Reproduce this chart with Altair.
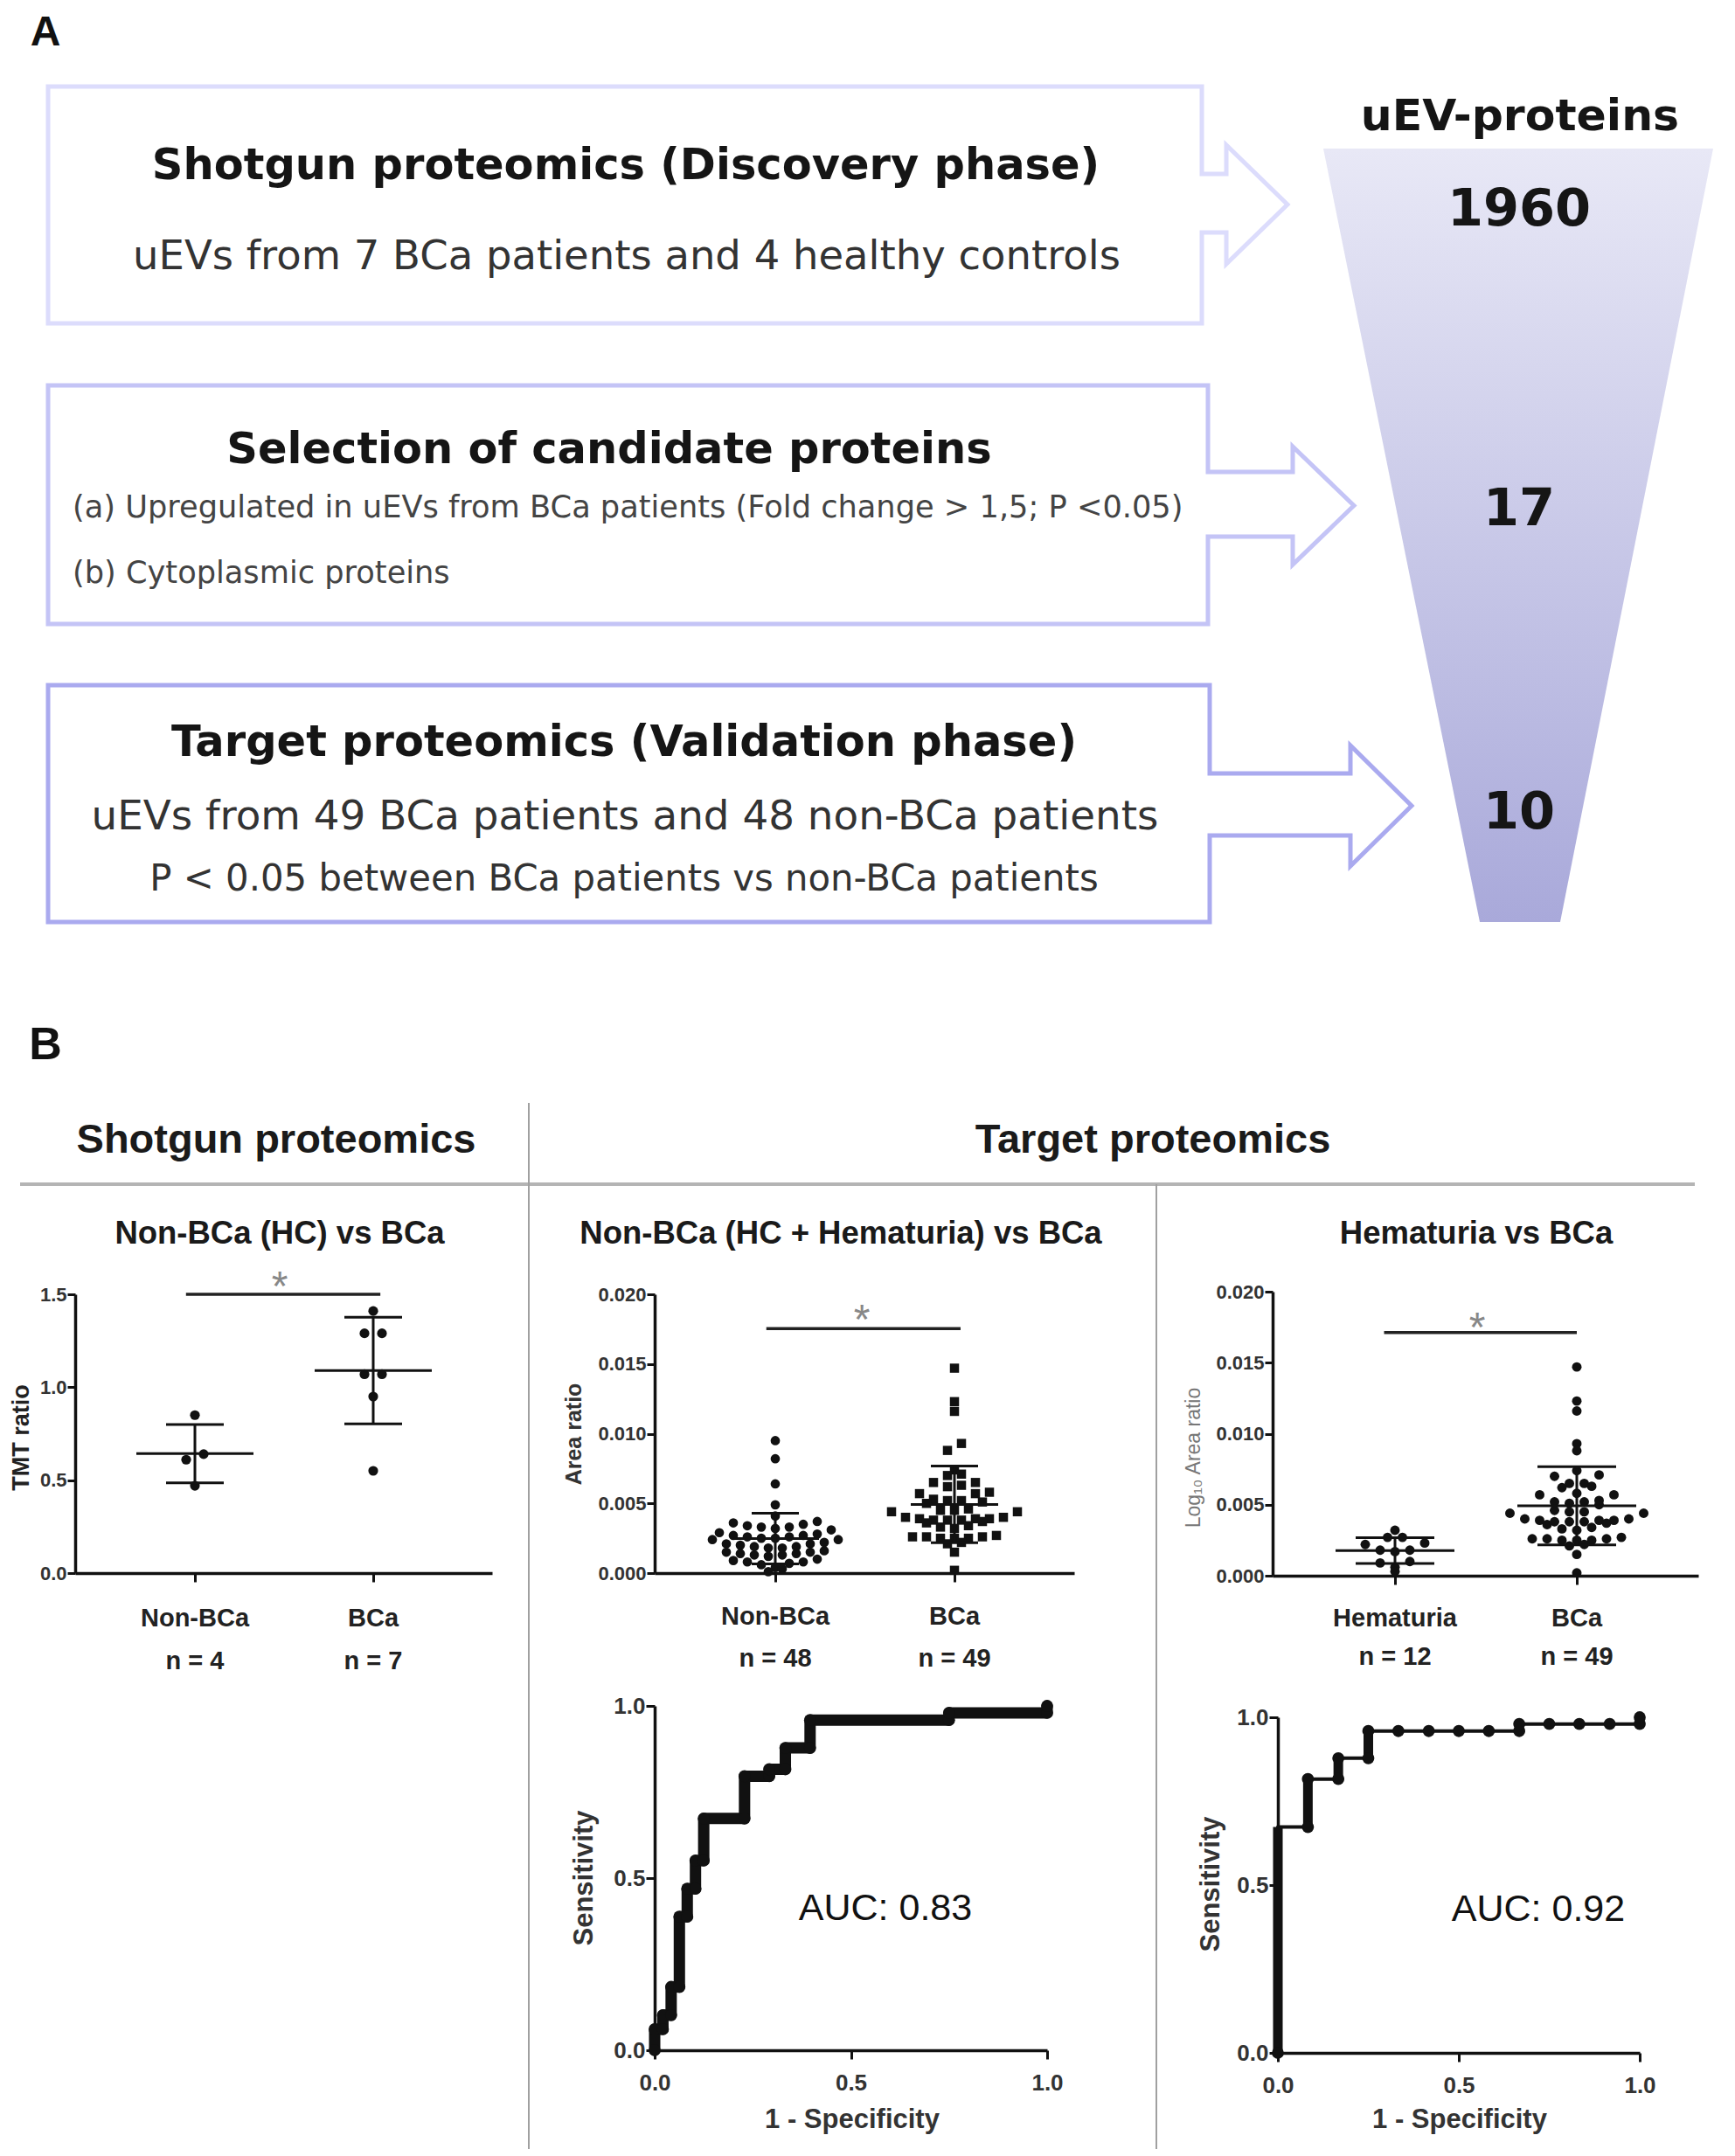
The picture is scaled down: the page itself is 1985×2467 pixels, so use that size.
import altair as alt
import numpy as np
import pandas as pd

# ===================== DATA =====================
panel_letters = ["A", "B"]

flow_titles = [
    "Shotgun proteomics (Discovery phase)",
    "Selection of candidate proteins",
    "Target proteomics (Validation phase)",
]
flow_lines = [
    ["uEVs from 7 BCa patients and 4 healthy controls"],
    ["(a) Upregulated in uEVs from BCa patients (Fold change > 1,5; P <0.05)",
     "(b) Cytoplasmic proteins"],
    ["uEVs from 49 BCa patients and 48 non-BCa patients",
     "P < 0.05 between BCa patients vs non-BCa patients"],
]
funnel_title = "uEV-proteins"
funnel_counts = ["1960", "17", "10"]

section_headers = ["Shotgun proteomics", "Target proteomics"]
comparison_titles = ["Non-BCa (HC) vs  BCa", "Non-BCa (HC + Hematuria) vs  BCa", "Hematuria vs  BCa"]

tmt_groups = ["Non-BCa", "BCa"]
tmt_n = ["n = 4", "n = 7"]
tmt_nonbca = [0.85, 0.64, 0.61, 0.47]
tmt_bca = [1.41, 1.29, 1.29, 1.07, 1.07, 0.95, 0.55]
tmt_ticks = [0.0, 0.5, 1.0, 1.5]

area_groups = ["Non-BCa", "BCa"]
area_n = ["n = 48", "n = 49"]
area_nonbca = [0.0095, 0.0082, 0.0064, 0.0049, 0.0041,
               0.0037, 0.0036, 0.0035, 0.0034, 0.0033, 0.0033, 0.0032, 0.0031,
               0.0029, 0.0028, 0.0027, 0.0027, 0.0026, 0.0026, 0.0025, 0.0025, 0.0024, 0.0024,
               0.0022, 0.0021, 0.0021, 0.0020, 0.0019, 0.0019, 0.0018, 0.0018,
               0.0016, 0.0015, 0.0015, 0.0014, 0.0014, 0.0013, 0.0013, 0.0012,
               0.0010, 0.0009, 0.0008, 0.0008, 0.0007, 0.0006,
               0.0004, 0.0003, 0.0001]
area_bca = [0.0147, 0.0123, 0.0116, 0.0093, 0.0088,
            0.0074, 0.0071, 0.0070,
            0.0065, 0.0065, 0.0063, 0.0062,
            0.0058, 0.0057, 0.0057,
            0.0053, 0.0052, 0.0052, 0.0051, 0.0050,
            0.0046, 0.0045, 0.0045, 0.0044, 0.0044,
            0.0040, 0.0040, 0.0039, 0.0039, 0.0039, 0.0038, 0.0038, 0.0038, 0.0037, 0.0036,
            0.0034, 0.0033, 0.0032,
            0.0027, 0.0026, 0.0026, 0.0026, 0.0025, 0.0025, 0.0025,
            0.0022, 0.0021,
            0.0015,
            0.0002]
hem_groups = ["Hematuria", "BCa"]
hem_n = ["n = 12", "n = 49"]
area_hematuria = [0.0032, 0.0027, 0.0027, 0.0023, 0.0022, 0.0018, 0.0018, 0.0017,
                  0.0010, 0.0009, 0.0006, 0.0003]
area_ticks = [0.0, 0.005, 0.010, 0.015, 0.020]

roc_ticks = [0.0, 0.5, 1.0]
roc1_fpr = [0.0, 0.0, 0.021, 0.021, 0.042, 0.042, 0.063, 0.063, 0.083, 0.083, 0.104, 0.104,
            0.125, 0.125, 0.229, 0.229, 0.292, 0.292, 0.333, 0.333, 0.396, 0.396,
            0.750, 0.750, 1.0, 1.0]
roc1_tpr = [0.0, 0.061, 0.061, 0.102, 0.102, 0.184, 0.184, 0.388, 0.388, 0.469, 0.469, 0.551,
            0.551, 0.673, 0.673, 0.796, 0.796, 0.816, 0.816, 0.878, 0.878, 0.959,
            0.959, 0.980, 0.980, 1.0]
roc2_fpr = [0.0, 0.0, 0.083, 0.083, 0.167, 0.167, 0.250, 0.250, 0.667, 0.667, 1.0, 1.0]
roc2_tpr = [0.0, 0.673, 0.673, 0.816, 0.816, 0.878, 0.878, 0.959, 0.959, 0.980, 0.980, 1.0]
roc2_dot_fpr = [0.0, 0.083, 0.083, 0.167, 0.167, 0.250, 0.250, 0.333, 0.417, 0.500, 0.583,
                0.667, 0.667, 0.750, 0.833, 0.917, 1.0, 1.0]
roc2_dot_tpr = [0.0, 0.673, 0.816, 0.816, 0.878, 0.878, 0.959, 0.959, 0.959, 0.959, 0.959,
                0.959, 0.980, 0.980, 0.980, 0.980, 0.980, 1.0]
auc_labels = ["AUC: 0.83", "AUC: 0.92"]
y_titles = ["TMT ratio", "Area ratio", "Log\u2081\u2080 Area ratio", "Sensitivity"]
x_title_roc = "1 - Specificity"
sig_mark = "*"

# ===================== LAYOUT / STYLE =====================
W, H = 1969, 2451
M = 8  # page margin: reference pixel -> canvas pixel = ref - M
INK = "#111111"
SANS = "Liberation Sans"
VERD = "DejaVu Sans"
box_colors = ["#dcdcfc", "#c4c4f6", "#aaaaef"]
# L, R, T, B, shaft top, shaft bottom, head base x, head top, head bottom, tip x
boxes = [
    (55, 1375, 99, 370, 199, 266, 1403, 166, 302, 1473),
    (55, 1382, 441, 714, 540, 614, 1479, 511, 646, 1549),
    (55, 1384, 784, 1055, 885, 956, 1545, 853, 991, 1615),
]

CX = alt.Scale(domain=[M, W + M], range=[0, W], nice=False, zero=False)
CY = alt.Scale(domain=[M, H + M], range=[0, H], nice=False, zero=False)

L = []


def txt(s, x, y, size, font=SANS, weight="normal", color=INK, align="center", angle=0, cap=0.716):
    if angle:
        px, py = x + cap * size / 2, y
    else:
        px, py = x, y + cap * size / 2
    return alt.Chart(pd.DataFrame({"t": [s]})).mark_text(
        font=font, fontSize=size, fontWeight=weight, color=color,
        align=align, baseline="alphabetic", angle=angle
    ).encode(text="t:N", x=alt.value(px - M), y=alt.value(py - M))


# ---------- Panel A: boxes with arrows ----------
rows = []
for k, (l, r, t, b, st, sb, hx, ht, hb, tx) in enumerate(boxes):
    ty = (ht + hb) / 2
    my = (t + b) / 2
    pts = [(l, my), (l, t), (r, t), (r, st), (hx, st), (hx, ht), (tx, ty), (hx, hb),
           (hx, sb), (r, sb), (r, b), (l, b), (l, my)]
    for i, (x, y) in enumerate(pts):
        rows.append(dict(box=f"b{k}", i=i, x=x, y=y))
L.append(
    alt.Chart(pd.DataFrame(rows)).mark_line(strokeWidth=5, strokeJoin="miter").encode(
        x=alt.X("x:Q", scale=CX, axis=None),
        y=alt.Y("y:Q", scale=CY, axis=None),
        order="i:Q",
        color=alt.Color("box:N", scale=alt.Scale(domain=["b0", "b1", "b2"], range=box_colors), legend=None),
    )
)

# funnel
funnel = pd.DataFrame({"y": [170, 1055], "x": [1514, 1693], "x2": [1960, 1785]})
L.append(
    alt.Chart(funnel).mark_area(
        orient="horizontal",
        color=alt.LinearGradient(
            gradient="linear",
            stops=[alt.GradientStop(color="#e8e8f6", offset=0),
                   alt.GradientStop(color="#a9a9da", offset=1)],
            x1=0, x2=0, y1=0, y2=1),
    ).encode(
        y=alt.Y("y:Q", scale=CY, axis=None),
        x=alt.X("x:Q", scale=CX, axis=None),
        x2="x2:Q",
    )
)

L.append(txt(panel_letters[0], 52, 35, 48, weight="bold"))
L.append(txt(flow_titles[0], 716, 187, 49.5, VERD, "bold", "#151515", cap=0.729))
L.append(txt(flow_lines[0][0], 717, 291, 46.5, VERD, color="#333333", cap=0.729))
L.append(txt(flow_titles[1], 697, 512, 49.5, VERD, "bold", "#151515", cap=0.729))
L.append(txt(flow_lines[1][0], 83, 579, 35.2, VERD, color="#444444", align="left", cap=0.729))
L.append(txt(flow_lines[1][1], 83, 654, 35.2, VERD, color="#444444", align="left", cap=0.729))
L.append(txt(flow_titles[2], 714, 847, 49.5, VERD, "bold", "#151515", cap=0.729))
L.append(txt(flow_lines[2][0], 715, 932, 46.8, VERD, color="#333333", cap=0.729))
L.append(txt(flow_lines[2][1], 714, 1004, 41.8, VERD, color="#333333", cap=0.729))
L.append(txt(funnel_title, 1739, 131, 50.5, VERD, "bold", "#151515", cap=0.729))
for s, yy in zip(funnel_counts, [236, 579, 926]):
    L.append(txt(s, 1738, yy, 59, VERD, "bold", "#151515", cap=0.729))

# ---------- Panel B: headers & separators ----------
L.append(txt(panel_letters[1], 52, 1193, 52, weight="bold"))
L.append(txt(section_headers[0], 316, 1302, 47, weight="bold", color="#1a1a1a"))
L.append(txt(section_headers[1], 1319, 1302, 47, weight="bold", color="#1a1a1a"))
for s, xx in zip(comparison_titles, [320, 962, 1689]):
    L.append(txt(s, xx, 1410, 36.5, weight="bold", color="#1a1a1a"))

hsep = pd.DataFrame({"x": [23], "x2": [1939], "y": [1355]})
L.append(alt.Chart(hsep).mark_rule(color="#b4b4b4", strokeWidth=4).encode(
    x=alt.X("x:Q", scale=CX, axis=None), x2="x2:Q", y=alt.Y("y:Q", scale=CY, axis=None)))
vsep = pd.DataFrame({"x": [605, 1323], "y": [1262, 1355], "y2": [2459, 2459]})
L.append(alt.Chart(vsep).mark_rule(color="#a0a0a0", strokeWidth=2).encode(
    x=alt.X("x:Q", scale=CX, axis=None), y=alt.Y("y:Q", scale=CY, axis=None), y2="y2:Q"))


# ---------- helpers for the data panels ----------
def left_axis(x0, ticks, fmt, size, tick=9):
    return alt.Axis(orient="left", offset=-(x0 - M), values=ticks, format=fmt, title=None, grid=False,
                    tickSize=tick, tickWidth=3, tickColor=INK, domainWidth=3.5, domainColor=INK,
                    labelFont=SANS, labelFontSize=size, labelFontWeight="bold", labelColor="#333333",
                    labelPadding=1, labelOverlap=False, labelFlush=False, labelBound=False)


def bottom_axis(ybot, ticks, fmt=None, size=24, labels=True, tick=10, pad=15):
    kw = dict(orient="bottom", offset=(ybot - M) - H, values=ticks, title=None, grid=False,
              tickSize=tick, tickWidth=3, tickColor=INK, domainWidth=3.5, domainColor=INK)
    if labels:
        kw.update(format=fmt, labelFont=SANS, labelFontSize=size, labelFontWeight="bold",
                  labelColor="#333333", labelPadding=pad, labelOverlap=False, labelFlush=False,
                  labelBound=False)
    else:
        kw.update(labels=False)
    return alt.Axis(**kw)


def panel_scales(x0, x1, c1, c2, ybot, ytop, ydom):
    ppu = float(c2 - c1)
    xdom = [1 - (c1 - x0) / ppu, 2 + (x1 - c2) / ppu]
    sx = alt.Scale(domain=xdom, range=[x0 - M, x1 - M], nice=False, zero=False)
    sy = alt.Scale(domain=ydom, range=[ybot - M, ytop - M], nice=False, zero=False)
    ypu = (ybot - ytop) / (ydom[1] - ydom[0])
    return sx, sy, ppu, ypu


def swarm_x(vals, k, ppu, ypu, bin_px, spacing):
    v = np.asarray(vals, float)
    rws = np.round(v * ypu / bin_px).astype(int)
    off = np.zeros(len(v))
    for r in np.unique(rws):
        idx = np.where(rws == r)[0]
        idx = idx[np.argsort(v[idx], kind="stable")]
        n = len(idx)
        slots = [(j - (n - 1) / 2) * spacing for j in range(n)]
        slots.sort(key=lambda p: (abs(p), p))
        for ii, p in zip(idx, slots):
            off[ii] = p
    return k + off / ppu


def scatter_panel(groups_vals, shapes, sizes, names, ns, geom, yticks, yfmt, tick_size,
                  sig_y, sig_x, star_xy, mean_hw, sd_hw, name_y, n_y, spacing):
    x0, x1, c1, c2, ybot, ytop, ydom = geom
    sx, sy, ppu, ypu = panel_scales(x0, x1, c1, c2, ybot, ytop, ydom)
    out = []
    for k, (vals, shp, sz) in enumerate(zip(groups_vals, shapes, sizes), start=1):
        df = pd.DataFrame({"x": swarm_x(vals, k, ppu, ypu, 11, spacing), "v": vals})
        first = k == 1
        out.append(alt.Chart(df).mark_point(shape=shp, filled=True, size=sz, color=INK, opacity=1).encode(
            x=alt.X("x:Q", scale=sx, axis=bottom_axis(ybot, [1, 2], labels=False) if first else None),
            y=alt.Y("v:Q", scale=sy, axis=left_axis(x0, yticks, yfmt, tick_size) if first else None),
        ))
    hr, vr = [], []
    for k, vals in enumerate(groups_vals, start=1):
        m = float(np.mean(vals))
        s = float(np.std(vals, ddof=1))
        hr += [dict(x=k - mean_hw / ppu, x2=k + mean_hw / ppu, y=m),
               dict(x=k - sd_hw / ppu, x2=k + sd_hw / ppu, y=m + s),
               dict(x=k - sd_hw / ppu, x2=k + sd_hw / ppu, y=m - s)]
        vr.append(dict(x=k, y=m - s, y2=m + s))
    out.append(alt.Chart(pd.DataFrame(hr)).mark_rule(color=INK, strokeWidth=3).encode(
        x=alt.X("x:Q", scale=sx, axis=None), x2="x2:Q", y=alt.Y("y:Q", scale=sy, axis=None)))
    out.append(alt.Chart(pd.DataFrame(vr)).mark_rule(color=INK, strokeWidth=3).encode(
        x=alt.X("x:Q", scale=sx, axis=None), y=alt.Y("y:Q", scale=sy, axis=None), y2="y2:Q"))
    # significance bar
    out.append(alt.Chart(pd.DataFrame({"x": [sig_x[0]], "x2": [sig_x[1]], "y": [sig_y]})).mark_rule(
        color="#222222", strokeWidth=3.5).encode(
        x=alt.X("x:Q", scale=sx, axis=None), x2="x2:Q", y=alt.Y("y:Q", scale=sy, axis=None)))
    out.append(txt(sig_mark, star_xy[0], star_xy[1], 48, color="#888888", cap=1.17))
    # category labels
    for labels, yy in ((names, name_y), (ns, n_y)):
        df = pd.DataFrame({"x": [1, 2], "t": labels})
        out.append(alt.Chart(df).mark_text(font=SANS, fontSize=29, fontWeight="bold", color="#222222",
                                           baseline="alphabetic").encode(
            x=alt.X("x:Q", scale=sx, axis=None), y=alt.value(yy + 0.358 * 29 - M), text="t:N"))
    return out


def roc_panel(fpr, tpr, geom, thick, dots=None):
    x0, x1, ybot, ytop = geom
    sx = alt.Scale(domain=[0, 1], range=[x0 - M, x1 - M], nice=False, zero=False)
    sy = alt.Scale(domain=[0, 1], range=[ybot - M, ytop - M], nice=False, zero=False)
    out = []
    df = pd.DataFrame({"f": fpr, "t": tpr, "i": range(len(fpr))})
    out.append(alt.Chart(df).mark_line(color=INK, strokeWidth=13 if thick else 4,
                                       strokeJoin="round", strokeCap="round").encode(
        x=alt.X("f:Q", scale=sx, axis=bottom_axis(ybot, roc_ticks, ".1f", 26, pad=14)),
        y=alt.Y("t:Q", scale=sy, axis=left_axis(x0, roc_ticks, ".1f", 26, tick=10)),
        order="i:Q"))
    if thick:
        out.append(alt.Chart(df).mark_circle(color=INK, size=190, opacity=1).encode(
            x=alt.X("f:Q", scale=sx, axis=None), y=alt.Y("t:Q", scale=sy, axis=None)))
    else:
        segs = [dict(f=a, t=b, t2=d) for a, b, c, d in zip(fpr[:-1], tpr[:-1], fpr[1:], tpr[1:]) if a == c]
        out.append(alt.Chart(pd.DataFrame(segs)).mark_rule(color=INK, strokeWidth=11).encode(
            x=alt.X("f:Q", scale=sx, axis=None), y=alt.Y("t:Q", scale=sy, axis=None), y2="t2:Q"))
        dd = pd.DataFrame({"f": dots[0], "t": dots[1]})
        out.append(alt.Chart(dd).mark_circle(color=INK, size=190, opacity=1).encode(
            x=alt.X("f:Q", scale=sx, axis=None), y=alt.Y("t:Q", scale=sy, axis=None)))
    return out


# ---------- Scatter 1: TMT ratio ----------
L += scatter_panel([tmt_nonbca, tmt_bca], ["circle", "circle"], [125, 125], tmt_groups, tmt_n,
                   (86, 563, 223, 427, 1800, 1481, [0, 1.5]), tmt_ticks, ".1f", 22,
                   1.5, (0.95, 2.04), (320, 1460), 67, 33, 1851, 1900, 20)
L.append(txt(y_titles[0], 23, 1645, 27, weight="bold", color="#222222", angle=270))

# ---------- Scatter 2: Non-BCa vs BCa ----------
L += scatter_panel([area_nonbca, area_bca], ["circle", "square"], [115, 110], area_groups, area_n,
                   (749, 1229, 887, 1092, 1800, 1481, [0, 0.02]), area_ticks, ".3f", 22,
                   0.01754, (0.95, 2.034), (986, 1498), 50, 27, 1849, 1897, 16)
L.append(txt(y_titles[1], 656, 1641, 25, weight="bold", color="#333333", angle=270))

# ---------- Scatter 3: Hematuria vs BCa ----------
L += scatter_panel([area_hematuria, area_bca], ["circle", "circle"], [120, 120], hem_groups, hem_n,
                   (1456, 1943, 1596, 1804, 1803, 1478, [0, 0.02]), area_ticks, ".3f", 22,
                   0.01713, (0.94, 2.0), (1690, 1507), 68, 45, 1851, 1895, 17)
L.append(txt(y_titles[2], 1365, 1668, 23, color="#777777", angle=270))

# ---------- ROC curves ----------
L += roc_panel(roc1_fpr, roc1_tpr, (749, 1198, 2346, 1952), True)
L += roc_panel(roc2_fpr, roc2_tpr, (1462, 1876, 2349, 1965), False, (roc2_dot_fpr, roc2_dot_tpr))
L.append(txt(y_titles[3], 667, 2149, 31, weight="bold", color="#333333", angle=270))
L.append(txt(y_titles[3], 1384, 2156, 31, weight="bold", color="#333333", angle=270))
L.append(txt(x_title_roc, 975, 2424, 31, weight="bold", color="#333333"))
L.append(txt(x_title_roc, 1670, 2424, 31, weight="bold", color="#333333"))
L.append(txt(auc_labels[0], 1013, 2182, 43, color="#111111"))
L.append(txt(auc_labels[1], 1760, 2183, 43, color="#111111"))

chart = alt.layer(*L).resolve_scale(x="independent", y="independent").resolve_axis(
    x="independent", y="independent"
).properties(
    width=W, height=H, autosize=alt.AutoSizeParams(type="none"), padding=0, background="white"
).configure_view(stroke=None)

chart.save("out.html", embed_options={"renderer": "svg", "actions": False})
